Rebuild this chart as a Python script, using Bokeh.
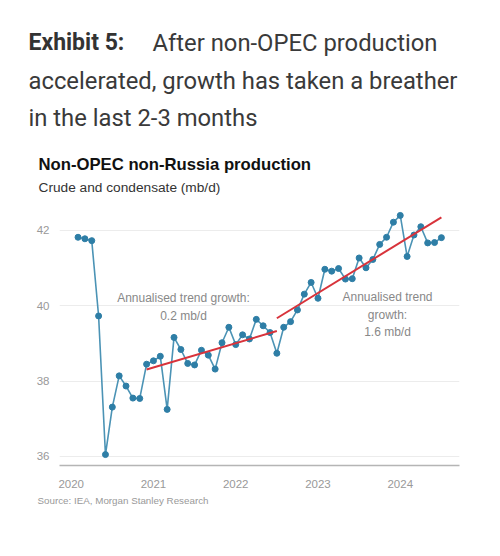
from bokeh.plotting import figure
from bokeh.models import Label, Range1d, FixedTicker
from bokeh.layouts import column
from bokeh.embed import file_html
from bokeh.resources import INLINE

# ---- data ----
months = [f"{y}-{m:02d}" for y in range(2020, 2025) for m in range(1, 13)][:54]
production = [
    41.82, 41.78, 41.73, 39.73, 36.05, 37.31, 38.14, 37.87, 37.55, 37.54, 38.45, 38.54,
    38.66, 37.25, 39.16, 38.84, 38.47, 38.43, 38.82, 38.69, 38.32, 39.02, 39.43, 38.97,
    39.23, 39.12, 39.64, 39.47, 39.29, 38.74, 39.43, 39.58, 39.89, 40.31, 40.62, 40.20,
    40.97, 40.92, 40.99, 40.71, 40.72, 41.27, 41.01, 41.23, 41.63, 41.82, 42.22, 42.40,
    41.31, 41.88, 42.10, 41.67, 41.68, 41.81,
]
trend1_months = ["2020-11", "2022-06"]
trend1_values = [38.31, 39.33]
trend2_months = ["2022-06", "2024-06"]
trend2_values = [39.67, 42.35]
year_ticks = [2020, 2021, 2022, 2023, 2024]
y_ticks = [36, 38, 40, 42]


def to_x(m):
    y, mo = m.split("-")
    return int(y) + int(mo) / 12.0


xs = [to_x(m) for m in months]

BLUE = "#2e7ea6"
LINE_BLUE = "#4b93b5"
RED = "#d8333b"
GREY = "#999999"


def no_align(f):
    if "frame_align" in f.properties():
        f.frame_align = False
    return f


def blank_fig(h):
    f = figure(width=500, height=h, output_backend="svg", toolbar_location=None,
               x_axis_type=None, y_axis_type=None, x_range=Range1d(0, 1), y_range=Range1d(0, 1),
               min_border=0, min_border_left=0, min_border_right=0,
               min_border_top=0, min_border_bottom=0)
    f.outline_line_color = None
    f.grid.visible = False
    return no_align(f)


def add_label(fig, top, h, text, px, py, size, color, font="Liberation Sans",
              style="normal", align="left", left=0):
    # px, py are page coordinates of the text's left/center and vertical middle
    fig.add_layout(Label(x=px - left, y=(top + h) - py, x_units="screen", y_units="screen",
                         text=text, text_font=font, text_font_size=size, text_color=color,
                         text_font_style=style, text_align=align, text_baseline="middle"))


# ---- header ----
HT, HH = 0, 200
header = blank_fig(HH)
add_label(header, HT, HH, "Exhibit 5:", 28, 42, "23px", "#333333", font="Roboto", style="bold")
add_label(header, HT, HH, "After non-OPEC production", 152, 42, "23.8px", "#3a3a3a", font="Roboto")
add_label(header, HT, HH, "accelerated, growth has taken a breather", 28, 80, "23.8px", "#3a3a3a", font="Roboto")
add_label(header, HT, HH, "in the last 2-3 months", 28, 117, "23.8px", "#3a3a3a", font="Roboto")
add_label(header, HT, HH, "Non-OPEC non-Russia production", 38, 164, "16.7px", "#111111", style="bold")
add_label(header, HT, HH, "Crude and condensate (mb/d)", 38, 187, "13.7px", "#333333")

# ---- chart ----
CT, CH = 200, 290
BOTTOM_BORDER = 25
p = figure(width=500, height=CH, output_backend="svg", toolbar_location=None,
           x_range=Range1d(2019.858, 2024.72), y_range=Range1d(35.76, 42.69),
           min_border_left=59, min_border_right=41, min_border_top=4,
           min_border_bottom=BOTTOM_BORDER)
no_align(p)
p.outline_line_color = None

p.line(xs, production, line_color=LINE_BLUE, line_width=1.6)
p.scatter(xs, production, size=6, fill_color=BLUE, line_color=BLUE)
p.line([to_x(m) for m in trend1_months], trend1_values, line_color=RED, line_width=2)
p.line([to_x(m) for m in trend2_months], trend2_values, line_color=RED, line_width=2)

p.xaxis.ticker = FixedTicker(ticks=year_ticks)
p.yaxis.ticker = FixedTicker(ticks=y_ticks)
p.xgrid.grid_line_color = None
p.ygrid.grid_line_color = "#ececec"
p.ygrid.grid_line_width = 1
p.yaxis.axis_line_color = None
p.xaxis.axis_line_color = "#b5b5b5"
p.xaxis.axis_line_width = 1.3
for ax in (p.xaxis, p.yaxis):
    ax.major_tick_line_color = None
    ax.minor_tick_line_color = None
    ax.major_label_text_font = "Liberation Sans"
    ax.major_label_text_font_size = "11.5px"
    ax.major_label_text_color = GREY
p.xaxis.major_label_standoff = 8
p.yaxis.major_label_standoff = 4

FR_BOTTOM = CT + CH - BOTTOM_BORDER
for text, px, py in [("Annualised trend growth:", 183, 297), ("0.2 mb/d", 183, 315),
                     ("Annualised trend", 387, 296), ("growth:", 387, 314),
                     ("1.6 mb/d", 387, 331)]:
    p.add_layout(Label(x=px - 59, y=FR_BOTTOM - py, x_units="screen", y_units="screen",
                       text=text, text_font="Liberation Sans", text_font_size="12px",
                       text_color="#888888", text_align="center", text_baseline="middle"))

# ---- footer ----
FT, FH = CT + CH, 50
footer = blank_fig(FH)
add_label(footer, FT, FH, "Source: IEA, Morgan Stanley Research", 37, 500, "9.8px", GREY)

layout = column(header, p, footer, spacing=0)
open("out.html", "w").write(file_html(layout, INLINE))
